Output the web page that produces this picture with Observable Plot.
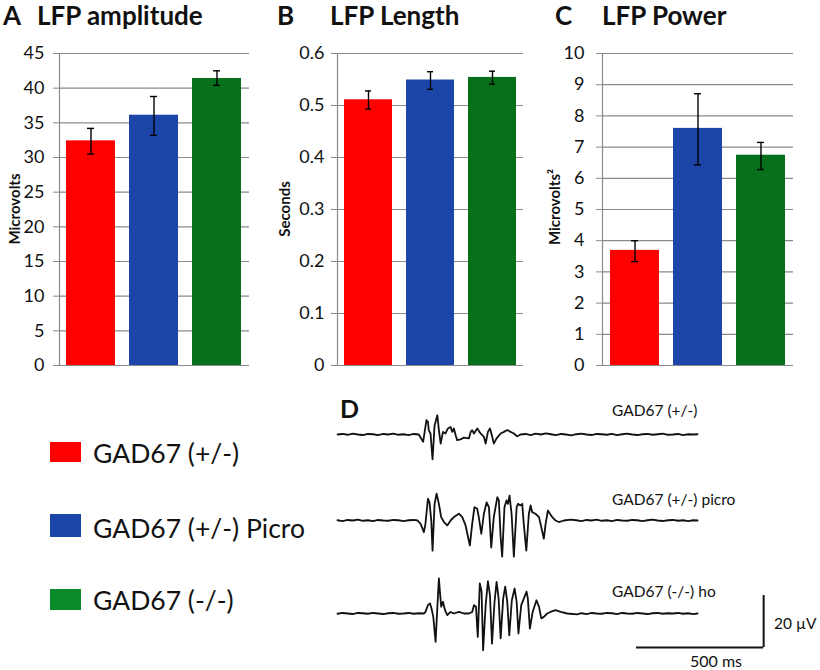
<!DOCTYPE html>
<html>
<head>
<meta charset="utf-8">
<script src="https://cdn.jsdelivr.net/npm/d3@7"></script>
<script src="https://cdn.jsdelivr.net/npm/@observablehq/plot@0.6"></script>
<style>
  html, body { margin: 0; padding: 0; background: #fff; }
  #root { position: relative; width: 820px; height: 670px; overflow: hidden; background: #fff; font-family: Lato, "Open Sans", sans-serif; }
  .chart { position: absolute; }
  .chart svg { overflow: visible; }
  #overlay { position: absolute; left: 0; top: 0; pointer-events: none; }
</style>
</head>
<body>
<div id="root">
  <div id="chartA" class="chart" style="left:0px;top:0px"></div>
  <div id="chartB" class="chart" style="left:270px;top:0px"></div>
  <div id="chartC" class="chart" style="left:540px;top:0px"></div>
  <div id="trace1" class="chart" style="left:330px;top:395px"></div>
  <div id="trace2" class="chart" style="left:330px;top:481px"></div>
  <div id="trace3" class="chart" style="left:330px;top:574px"></div>
  <svg id="overlay" width="820" height="670" xmlns="http://www.w3.org/2000/svg"></svg>
</div>
<script>
// ---------------- data ----------------
const categories = ["GAD67 (+/-)", "GAD67 (+/-) Picro", "GAD67 (-/-)"];
const barColors = ["#fe0000", "#1b45a6", "#07701a"];
const legendColors = ["#fe0000", "#1c45a8", "#0b8a2c"];

// A: LFP amplitude (microvolts)
const ampMean = [32.4, 36.1, 41.4];
const ampLow  = [30.5, 33.2, 40.4];
const ampHigh = [34.2, 38.8, 42.5];
const ampTicks = [0, 5, 10, 15, 20, 25, 30, 35, 40, 45];

// B: LFP length (seconds)
const lenMean = [0.511, 0.549, 0.554];
const lenLow  = [0.493, 0.531, 0.541];
const lenHigh = [0.528, 0.565, 0.566];
const lenTicks = [0, 0.1, 0.2, 0.3, 0.4, 0.5, 0.6];

// C: LFP power (microvolts^2)
const powMean = [3.69, 7.60, 6.74];
const powLow  = [3.33, 6.43, 6.28];
const powHigh = [4.00, 8.71, 7.15];
const powTicks = [0, 1, 2, 3, 4, 5, 6, 7, 8, 9, 10];

// D: example LFP traces, [time (ms), voltage (µV)]
const traceLabels = ["GAD67 (+/-)", "GAD67 (+/-) picro", "GAD67 (-/-) ho"];
const trace1 = [
  [0,0],[20,0.2],[40,-0.1],[60,0.3],[80,0],[100,-0.2],[120,0.2],[140,0.1],[160,-0.2],[180,0.2],
  [200,0],[220,0.3],[240,-0.1],[260,0.1],[280,-0.2],[300,0.2],[320,0],
  [337,-2.8],[350,5.5],[356,4.9],[359,1.7],[366,0.4],[374,-9.6],[382,3.5],[393,7.4],[399,1.7],
  [406,-3.5],[415,1.0],[425,0.4],[434,2.3],[445,2.9],[452,1.0],[458,2.3],[465,-0.3],[471,-2.2],
  [484,-1.9],[497,-1.2],[517,-1.5],[524,1.0],[530,1.7],[537,0.4],[550,2.3],[563,0.4],[576,-0.9],
  [583,-3.5],[592,1.0],[600,2.3],[609,-0.9],[615,-3.5],[626,-1.5],[642,0.4],[655,1.0],[668,1.7],
  [681,1.0],[694,0.4],[707,-0.7],[720,0],
  [740,0.2],[760,-0.2],[780,0.3],[800,0],[820,0.4],[840,0.1],[860,-0.2],[880,0.2],[900,0],[920,-0.3],
  [940,0.1],[960,0.3],[980,0],[1000,-0.2],[1020,0.2],[1040,0.1],[1060,-0.1],[1080,0.2],[1100,-0.2],
  [1120,0.1],[1140,0.3],[1160,0],[1180,-0.2],[1200,0.1],[1220,0.2],[1240,-0.1],[1260,0.1],[1280,0.3],
  [1300,-0.1],[1320,0],[1340,0.2],[1360,-0.2],[1380,0.1],[1400,0],[1417,0.1]
];
const trace2 = [
  [0,0.1],[20,-0.2],[40,0.2],[60,0],[80,0.3],[100,-0.1],[120,0.1],[140,-0.2],[160,0.2],[180,0],
  [200,-0.1],[220,0.2],[240,0.1],[260,-0.2],[280,0.1],[300,0.2],[315,0],
  [327,-1.3],[340,-4.5],[346,-1.3],[356,8.4],[362,7.0],[369,0],[374,-11.6],[382,6.4],[390,10.3],
  [399,6.4],[408,1.3],[419,-0.6],[432,-1.9],[445,0],[458,1.3],[478,2.6],[491,1.3],[504,-1.9],
  [521,-9.6],[530,-1.3],[539,5.1],[550,4.5],[556,1.3],[566,-5.1],[576,2.6],[587,7.0],[596,5.1],
  [605,-10.4],[615,1.3],[629,9.0],[635,7.7],[642,-6.4],[648,-13.9],[657,5.1],[665,7.7],[671,6.4],
  [677,9.6],[685,2.6],[694,-13.9],[705,5.1],[710,6.4],[720,5.8],[727,6.4],[733,-1.3],[743,-11.6],
  [753,2.6],[760,5.8],[766,3.2],[779,2.6],[793,1.3],[802,-2.6],[812,-7.0],[819,-1.3],[828,3.9],
  [836,2.6],[845,1.3],[858,0],[871,-0.6],[891,0],[917,0.3],
  [940,0.1],[960,-0.2],[980,0.2],[1000,0],[1020,0.3],[1040,-0.1],[1060,0.1],[1080,-0.2],[1100,0.2],
  [1120,0],[1140,-0.1],[1160,0.2],[1180,0.1],[1200,-0.2],[1220,0.1],[1240,0.3],[1260,0],[1280,-0.2],
  [1300,0.1],[1320,0.2],[1340,-0.1],[1360,0.1],[1380,-0.2],[1400,0.1],[1417,0]
];
const trace3 = [
  [0,-0.1],[20,0.2],[40,0],[60,-0.2],[80,0.2],[100,0.1],[120,-0.1],[140,0.2],[160,0],[180,-0.2],
  [200,0.1],[220,0.2],[240,-0.1],[260,0],[280,0.2],[300,-0.1],[320,0.1],[340,0],
  [346,0.6],[356,3.2],[364,3.9],[370,1.9],[377,-1.3],[386,-10.9],[392,0.6],[399,13.5],[403,8.4],
  [408,2.6],[415,4.5],[423,1.3],[432,-0.6],[445,0.6],[458,0],[478,0.6],[497,0],[517,0],[530,0.6],
  [537,3.2],[545,2.6],[552,-9.0],[560,11.6],[567,8.4],[573,-14.1],[583,3.2],[592,12.4],[600,7.0],
  [608,-11.6],[618,4.5],[626,12.2],[634,5.8],[642,-9.6],[652,5.8],[660,10.3],[668,4.5],[676,-8.4],
  [686,5.1],[697,9.6],[705,4.5],[712,-7.7],[723,3.2],[744,8.4],[749,5.8],[757,-5.8],[768,0.6],
  [783,5.1],[793,2.6],[802,-1.9],[812,-1.3],[825,0],[838,0.6],[858,1.3],[878,0.6],[904,0],[943,-0.3],
  [960,0.1],[980,-0.2],[1000,0.2],[1020,0],[1040,-0.1],[1060,0.2],[1080,0.1],[1100,-0.2],[1120,0.2],
  [1140,0],[1160,-0.1],[1180,0.2],[1200,0],[1220,-0.2],[1240,0.1],[1260,0.2],[1280,-0.1],[1300,0.1],
  [1320,0],[1340,0.2],[1360,-0.1],[1380,0.1],[1400,-0.2],[1417,0]
];
const scaleBarMs = 500;
const scaleBarUv = 20;

// ---------------- drawing ----------------
const GRID = "#8a8a8a";
const fmt = d3.format("~g");

function barChart(el, {mean, low, high, ticks, width, marginLeft, marginRight, tickPadding}) {
  const data = categories.map((c, i) => ({cat: c, mean: mean[i], low: low[i], high: high[i]}));
  const svg = Plot.plot({
    width, height: 375,
    marginLeft, marginRight, marginTop: 53, marginBottom: 10,
    style: {fontFamily: "Lato, sans-serif", fontSize: "18px", color: "#111", background: "transparent", overflow: "visible"},
    x: {domain: categories, paddingInner: 0.22, paddingOuter: 0.11, axis: null},
    y: {domain: [0, d3.max(ticks)], axis: null},
    color: {domain: categories, range: barColors},
    marks: [
      Plot.ruleY(ticks, {stroke: GRID, strokeWidth: 1.2}),
      Plot.barY(data, {x: "cat", y: "mean", fill: "cat"}),
      Plot.ruleX(data, {x: "cat", y1: "low", y2: "high", stroke: "#000", strokeWidth: 1.4}),
      Plot.tickY(data, {x: "cat", y: "low", inset: 21, stroke: "#000", strokeWidth: 1.4}),
      Plot.tickY(data, {x: "cat", y: "high", inset: 21, stroke: "#000", strokeWidth: 1.4}),
      Plot.axisY({ticks, tickFormat: fmt, tickSize: 6, tickPadding, stroke: GRID, fill: "#111", label: null, fontSize: 18}),
      Plot.frame({anchor: "left", stroke: GRID, strokeWidth: 1.2})
    ]
  });
  document.getElementById(el).appendChild(svg);
}

barChart("chartA", {mean: ampMean, low: ampLow, high: ampHigh, ticks: ampTicks, width: 260, marginLeft: 59, marginRight: 11, tickPadding: 9});
barChart("chartB", {mean: lenMean, low: lenLow, high: lenHigh, ticks: lenTicks, width: 265, marginLeft: 67, marginRight: 12, tickPadding: 7});
barChart("chartC", {mean: powMean, low: powLow, high: powHigh, ticks: powTicks, width: 270, marginLeft: 62, marginRight: 17, tickPadding: 12});

function tracePlot(el, trace, withScaleBar) {
  const marks = [
    Plot.line(trace, {x: d => d[0], y: d => d[1], stroke: "#111", strokeWidth: 1.8})
  ];
  if (withScaleBar) {
    const end = 1677, bottom = -13.1;
    marks.push(Plot.ruleY([bottom], {x1: end - scaleBarMs, x2: end, stroke: "#111", strokeWidth: 2}));
    marks.push(Plot.ruleX([end], {y1: bottom, y2: bottom + scaleBarUv, stroke: "#111", strokeWidth: 2}));
  }
  const svg = Plot.plot({
    width: 490, height: 78,
    marginLeft: 7, marginRight: 51, marginTop: 0, marginBottom: 0,
    style: {background: "transparent", overflow: "visible"},
    x: {domain: [0, 1700], axis: null},
    y: {domain: [-15, 15], axis: null},
    marks
  });
  document.getElementById(el).appendChild(svg);
}
tracePlot("trace1", trace1, false);
tracePlot("trace2", trace2, false);
tracePlot("trace3", trace3, true);

// ---------------- annotations (titles, axis labels, legend) ----------------
const ov = d3.select("#overlay");
function txt(x, y, s, opts = {}) {
  const t = ov.append("text").attr("x", x).attr("y", y).text(s)
    .attr("font-family", "Lato, sans-serif")
    .attr("font-size", opts.size || 16)
    .attr("font-weight", opts.weight || "normal")
    .attr("fill", "#111");
  if (opts.anchor) t.attr("text-anchor", opts.anchor);
  if (opts.rotate) t.attr("transform", `rotate(-90 ${x} ${y})`);
  return t;
}
// panel titles
txt(3, 25, "A", {size: 26, weight: "bold"});
txt(37, 25, "LFP amplitude", {size: 26, weight: "bold"});
txt(277, 25, "B", {size: 26, weight: "bold"});
txt(330, 25, "LFP Length", {size: 26, weight: "bold"});
txt(555, 25, "C", {size: 26, weight: "bold"});
txt(602, 25, "LFP Power", {size: 26, weight: "bold"});
txt(340, 418, "D", {size: 25, weight: "bold"});
// axis labels
txt(20, 209, "Microvolts", {size: 15, weight: "bold", anchor: "middle", rotate: true});
txt(290, 209, "Seconds", {size: 15, weight: "bold", anchor: "middle", rotate: true});
txt(560, 207, "Microvolts²", {size: 15, weight: "bold", anchor: "middle", rotate: true});
// legend
const legY = [[442, 20, 463], [514, 23, 538], [589, 21, 610]];
categories.forEach((c, i) => {
  ov.append("rect").attr("x", 50).attr("y", legY[i][0]).attr("width", 31).attr("height", legY[i][1]).attr("fill", legendColors[i]);
  txt(93, legY[i][2], c, {size: 26.5});
});
// trace labels and scale bar text
txt(612, 416, traceLabels[0], {size: 15.5});
txt(612, 505, traceLabels[1], {size: 15.5});
txt(612, 597, traceLabels[2], {size: 15.5});
txt(774, 629, `${scaleBarUv} µV`, {size: 15.5});
txt(690, 667, `${scaleBarMs} ms`, {size: 16});
</script>
</body>
</html>
